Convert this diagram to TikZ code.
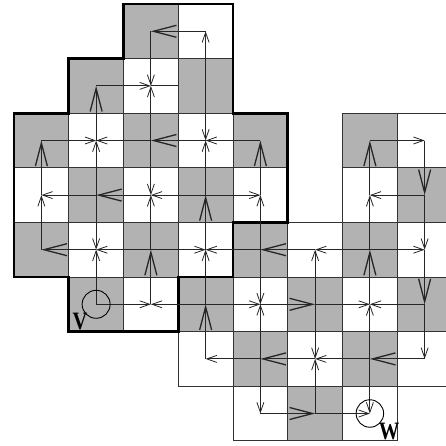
\documentclass[tikz,border=0pt]{standalone}
\usepackage{fontspec}
\setmainfont{Liberation Serif}
\usetikzlibrary{arrows.meta}
\definecolor{cellgray}{gray}{0.70}
\tikzset{
  gridline/.style={draw=black!80, line width=0.9pt},
  outline/.style={draw=black, line width=2.6pt, line join=miter},
  conn/.style={draw=black!85, line width=0.9pt},
  bigarr/.style={conn, -{Straight Barb[length=23pt,width=12pt,line width=1.3pt]}},
  smallarr/.style={conn, -{Straight Barb[length=10pt,width=7pt,line width=0.8pt]}},
  endcircle/.style={circle, draw=black, line width=0.9pt, inner sep=0pt, minimum size=28pt},
  letter/.style={font=\fontsize{25}{25}\selectfont\bfseries, inner sep=0pt, xscale=0.82}
}
\begin{document}
\begin{tikzpicture}
\clip (0pt,0pt) rectangle (446pt,-445pt);
\begin{scope}[shift={(14pt,-4pt)}, x=54.75pt, y=-54.6pt]
  % cells
  \foreach \c/\r in {2/0,3/0,
                     1/1,2/1,3/1,
                     0/2,1/2,2/2,3/2,4/2,6/2,7/2,
                     0/3,1/3,2/3,3/3,4/3,6/3,7/3,
                     0/4,1/4,2/4,3/4,4/4,5/4,6/4,7/4,
                     1/5,2/5,3/5,4/5,5/5,6/5,7/5,
                     3/6,4/6,5/6,6/6,7/6,
                     4/7,5/7,6/7}{
    \pgfmathtruncatemacro\p{mod(\c+\r,2)}
    \ifnum\p=0 \fill[cellgray] (\c,\r) rectangle ++(1,1); \fi
    \path[gridline] (\c,\r) rectangle ++(1,1);
    \coordinate (n-\c-\r) at (\c+0.5,\r+0.5);
  }
  % thick outline of the left region
  \path[outline] (2,0) -- (4,0) -- (4,2) -- (5,2) -- (5,4) -- (4,4) -- (4,5)
     -- (3,5) -- (3,6) -- (1,6) -- (1,5) -- (0,5) -- (0,2) -- (1,2) -- (1,1)
     -- (2,1) -- cycle;
  % half edge
  \coordinate (h) at (3,1.5);
  \draw[conn] (n-2-1) -- (h);
  % small arrows (gray -> white)
  \foreach \a/\b in {2-0/2-1, 1-1/2-1, 3-1/3-0, 3-1/3-2, 0-2/1-2, 2-2/2-1,
      2-2/1-2, 2-2/2-3, 4-2/3-2, 1-3/0-3, 1-3/1-2, 1-3/1-4, 3-3/3-2,
      3-3/2-3, 3-3/4-3, 0-4/0-3, 2-4/1-4, 2-4/2-3, 2-4/3-4, 1-5/1-4,
      1-5/2-5, 4-4/3-4, 4-4/4-3, 4-4/4-5, 6-4/5-4, 6-4/7-4, 6-4/6-3,
      3-5/2-5, 3-5/4-5, 3-5/3-4, 5-5/5-4, 5-5/6-5, 5-5/5-6, 7-5/6-5,
      7-5/7-6, 4-6/4-5, 4-6/3-6, 4-6/4-7, 6-6/6-5, 6-6/6-7, 6-6/5-6,
      5-7/5-6, 5-7/6-7, 6-2/7-2, 7-3/6-3, 7-3/7-4}
    \draw[smallarr] (n-\a) -- (n-\b);
  % big arrows (white -> gray)
  \foreach \a/\b in {3-0/2-0, 1-2/1-1, 3-2/2-2, 0-3/0-2, 2-3/1-3, 4-3/4-2,
      1-4/0-4, 3-4/3-3, 2-5/2-4, 4-5/5-5, 6-5/6-4, 3-6/3-5, 5-6/4-6,
      7-6/6-6, 4-7/5-7, 5-4/4-4, 7-4/7-5, 6-3/6-2, 7-2/7-3}
    \draw[bigarr] (n-\a) -- (n-\b);
  % end points
  \node[endcircle] (Vc) at (n-1-5) {};
  \node[endcircle, minimum size=27.5pt] (Wc) at (n-6-7) {};
  \node[letter] (Vl) at (1.205,5.82) {V};
  \node[letter] (Wl) at (6.85,7.83) {W};
\end{scope}
\end{tikzpicture}
\end{document}
